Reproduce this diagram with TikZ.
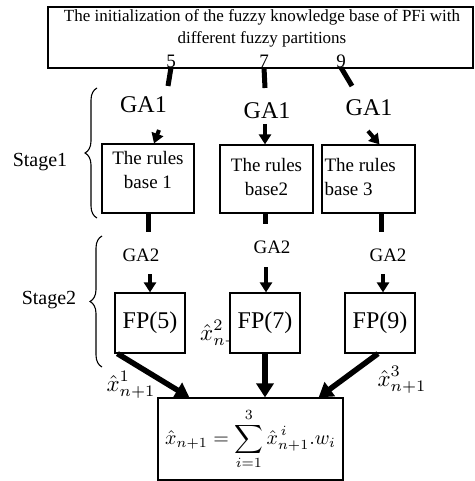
\documentclass[tikz,border=0pt]{standalone}
\usepackage{graphicx}
\usepackage{fontspec}
\setmainfont{Liberation Serif}
\usetikzlibrary{arrows.meta,decorations.pathreplacing,calc}

\tikzset{
  box/.style={draw, line width=1.2pt, fill=white, inner sep=0pt},
  num/.style={inner sep=0pt, font=\fontsize{19}{22}\selectfont},
  gaone/.style={inner sep=0pt, font=\fontsize{24}{27}\selectfont},
  gatwo/.style={inner sep=0pt, font=\fontsize{19}{22}\selectfont},
  rtxt/.style={inner sep=0pt, font=\fontsize{19}{24}\selectfont},
  xhat/.style={inner sep=0pt},
  bar/.style={line width=5pt},
  arr/.style={line width=4pt, -{Triangle[length=10pt,width=12pt]}},
  bigarr/.style={line width=5.5pt, -{Triangle[length=14pt,width=17pt]}},
  stagebrace/.style={decorate, decoration={brace, amplitude=12pt}, line width=1.1pt},
}
\newcommand{\bigmath}[2]{\scalebox{#1}{$\displaystyle #2$}}

\begin{document}
\begin{tikzpicture}[x=1pt, y=-1pt]
  \useasboundingbox (0,0) rectangle (474,481);

  % --- top box ---
  \node[box, minimum width=425pt, minimum height=61pt] (init) at (260.5,37.5) {};
  \node[font=\fontsize{17}{22}\selectfont, align=center] (inittxt) at (262,28)
    {The initialization of the fuzzy knowledge base of PFi with\\different fuzzy partitions};
  \node[num] (n5) at (171,61) {5};
  \node[num] (n7) at (264,61) {7};
  \node[num] (n9) at (341,61) {9};

  % --- stage 1 ---
  \node[gaone] (ga1a) at (143.5,104.5) {GA1};
  \node[gaone] (ga1b) at (267,111) {GA1};
  \node[gaone] (ga1c) at (369,107.5) {GA1};

  \node[box, minimum width=92pt, minimum height=69pt] (rb1) at (148,178.5) {};
  \node[box, minimum width=93pt, minimum height=68pt] (rb2) at (266.5,179) {};
  \node[box, minimum width=93pt, minimum height=68pt] (rb3) at (368.5,179) {};
  \node[rtxt, align=center] (rb1t) at ($(rb1.center)+(0,-8)$) {The rules\\base 1};
  \node[rtxt, align=center] (rb2t) at ($(rb2.center)+(0,-2)$) {The rules\\base2};
  \node[rtxt, align=left, anchor=west] (rb3t) at ($(rb3.west)+(3,-2)$) {The rules\\base 3};

  \coordinate (e5) at (168,86);
  \coordinate (e7) at (265,88);
  \coordinate (e9) at (352,86);
  \draw[bar] (n5.south) -- (e5);
  \draw[bar] (n7.south) -- (e7);
  \draw[bar] (n9.south) -- (e9);

  \coordinate (s1a) at (159,130);
  \coordinate (s1b) at (265,124);
  \coordinate (s1c) at (368,131);
  \draw[arr] (s1a) -- ([xshift=6pt]rb1.north);
  \draw[arr] (s1b) -- ([xshift=-1.5pt]rb2.north);
  \draw[arr] (s1c) -- ([xshift=11pt]rb3.north);

  \draw[stagebrace] (97,218) -- (97,88);
  \node[font=\fontsize{20}{24}\selectfont] (st1) at (40,162) {Stage1};

  % --- stage 2 ---
  \coordinate (d1) at (148,232);
  \coordinate (d2) at (265,224);
  \coordinate (d3) at (381,232);
  \draw[bar] (rb1.south) -- (d1);
  \draw[bar] ([xshift=-1.5pt]rb2.south) -- (d2);
  \draw[bar] ([xshift=12.5pt]rb3.south) -- (d3);

  \node[gatwo] (ga2a) at (141,255) {GA2};
  \node[gatwo] (ga2b) at (272,247) {GA2};
  \node[gatwo] (ga2c) at (388,255) {GA2};

  \node[xhat, anchor=west] (xh2) at (200,334) {\bigmath{2.3}{\hat{x}^2_{n+1}}};

  \node[box, minimum width=70pt, minimum height=60pt, font=\fontsize{24}{28}\selectfont] (fp5) at (150,323) {FP(5)};
  \node[box, minimum width=70pt, minimum height=60pt, font=\fontsize{24}{28}\selectfont] (fp7) at (265,323) {FP(7)};
  \node[box, minimum width=70pt, minimum height=60pt, font=\fontsize{24}{28}\selectfont] (fp9) at (380,323) {FP(9)};

  \coordinate (s2a) at (150,274);
  \coordinate (s2b) at (266,267);
  \coordinate (s2c) at (383,274);
  \draw[arr] (s2a) -- (fp5.north);
  \draw[arr] (s2b) -- ([xshift=1pt]fp7.north);
  \draw[arr] (s2c) -- ([xshift=3pt]fp9.north);

  \draw[stagebrace] (102,367) -- (102,236);
  \node[font=\fontsize{20}{24}\selectfont] (st2) at (49,300) {Stage2};

  % --- combination ---
  \node[box, minimum width=185pt, minimum height=82pt] (sum) at (250.5,439)
    {\bigmath{2.0}{\hat{x}_{n+1} = \sum_{i=1}^{3} \hat{x}^{\,i}_{n+1}.w_i}};

  \node[xhat] (xh1) at (131,385) {\bigmath{2.3}{\hat{x}^1_{n+1}}};
  \node[xhat] (xh3) at (402,380) {\bigmath{2.3}{\hat{x}^3_{n+1}}};

  \draw[bigarr] ([xshift=3pt]fp5.south west) -- ([xshift=32pt]sum.north west);
  \draw[bigarr] (fp7.south) -- ([xshift=14.5pt]sum.north);
  \draw[bigarr] ([xshift=-2pt]fp9.south) -- ([xshift=-25pt]sum.north east);

\end{tikzpicture}
\end{document}
